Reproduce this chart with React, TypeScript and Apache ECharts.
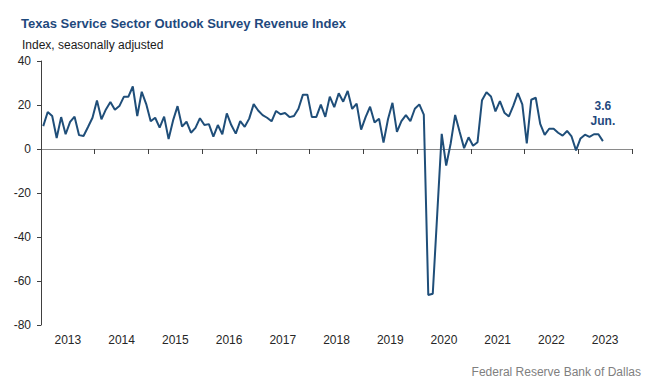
import React, { useEffect, useRef } from "react";
import * as echarts from "echarts";

const years = ["2013", "2014", "2015", "2016", "2017", "2018", "2019", "2020", "2021", "2022", "2023"];
const monthNames = ["Jan.", "Feb.", "Mar.", "Apr.", "May", "Jun.", "Jul.", "Aug.", "Sep.", "Oct.", "Nov.", "Dec."];

const revenue2013 = [10.4, 16.8, 15, 5, 14.5, 6.7, 12.3, 14.7, 6.3, 5.9, 10, 14.2];
const revenue2014 = [22.1, 13.5, 18, 21.4, 17.8, 19.5, 23.7, 23.7, 28.4, 15, 26, 20.4];
const revenue2015 = [12.6, 14.2, 9.7, 14.7, 4.5, 13, 19.5, 10.2, 12.4, 7.4, 9.6, 14];
const revenue2016 = [10.9, 11.3, 5.6, 10.9, 6.7, 16.2, 10.9, 7, 12.7, 10.1, 13.8, 20.4];
const revenue2017 = [17.5, 15.4, 14.2, 12.6, 17.3, 15.8, 16.4, 14.5, 15, 18.3, 24.7, 24.7];
const revenue2018 = [14.5, 14.6, 20.2, 14.6, 23.8, 19, 25.3, 21.5, 26.4, 18.2, 20.6, 8.8];
const revenue2019 = [14.5, 19.2, 12, 13.8, 2.9, 13.5, 21, 7.8, 12.7, 15.4, 12.7, 18.3];
const revenue2020 = [20.3, 15.6, -66.4, -65.8, -29.5, 6.9, -7.5, 2.5, 15.5, 7.8, 0.4, 5.3];
const revenue2021 = [1.5, 3.1, 22.2, 25.8, 23.9, 17.1, 21.8, 16.5, 14.8, 19.7, 25.4, 20.3];
const revenue2022 = [2.6, 22.4, 23.3, 11.4, 6.4, 9.2, 9.2, 7.4, 6.1, 8.2, 5.7, -0.6];
const revenue2023 = [4.8, 6.5, 5.5, 6.7, 6.7, 3.6];

const yTicks = { min: -80, max: 40, interval: 20 };

const titleText = "Texas Service Sector Outlook Survey Revenue Index";
const subtitleText = "Index, seasonally adjusted";
const sourceText = "Federal Reserve Bank of Dallas";

const revenueIndex = [
  ...revenue2013, ...revenue2014, ...revenue2015, ...revenue2016, ...revenue2017, ...revenue2018,
  ...revenue2019, ...revenue2020, ...revenue2021, ...revenue2022, ...revenue2023,
];
const months = years.flatMap((y) => monthNames.map((m) => `${m} ${y}`));

const FONT = 'Arial, "Liberation Sans", sans-serif';
const NAVY = "#1f497d";
const LINE = "#1f4e79";

export default function App() {
  const ref = useRef<HTMLDivElement>(null);
  useEffect(() => {
    if (!ref.current) return;
    const chart = echarts.init(ref.current, undefined, { renderer: "svg" });
    const last = revenueIndex.length - 1;
    chart.setOption({
      animation: false,
      backgroundColor: "#ffffff",
      title: [
        {
          text: titleText,
          left: 16,
          top: 10,
          textStyle: { fontFamily: FONT, fontSize: 13, fontWeight: "bold", color: NAVY, lineHeight: 16 },
        },
        {
          text: subtitleText,
          left: 17,
          top: 33,
          textStyle: { fontFamily: FONT, fontSize: 12, fontWeight: "normal", color: "#1a1a1a", lineHeight: 14 },
        },
        {
          text: sourceText,
          right: 9,
          top: 360,
          textStyle: { fontFamily: FONT, fontSize: 12, fontWeight: "normal", color: "#7f7f7f", lineHeight: 14 },
        },
      ],
      grid: { left: 41, right: 23, top: 61, bottom: 60, containLabel: false },
      xAxis: [
        {
          type: "category",
          data: months,
          boundaryGap: true,
          show: false,
          axisLine: { onZero: false },
        },
        {
          type: "category",
          data: years,
          boundaryGap: true,
          position: "bottom",
          axisLine: { show: true, onZero: true, onZeroAxisIndex: 0, lineStyle: { color: "#8a8a8a", width: 1 } },
          axisTick: { show: true, length: 5, interval: 0, lineStyle: { color: "#404040" } },
          axisLabel: { show: false },
          splitLine: { show: false },
        },
        {
          type: "category",
          data: years,
          boundaryGap: true,
          position: "bottom",
          axisLine: { show: false, onZero: false },
          axisTick: { show: false },
          axisLabel: { show: true, interval: 0, margin: 9, color: "#262626", fontSize: 12, fontFamily: FONT },
          splitLine: { show: false },
        },
      ],
      yAxis: {
        type: "value",
        min: yTicks.min,
        max: yTicks.max,
        interval: yTicks.interval,
        axisLine: { show: true, lineStyle: { color: "#404040", width: 1 } },
        axisTick: { show: true, length: 4, lineStyle: { color: "#404040" } },
        splitLine: { show: false },
        axisLabel: { margin: 10, color: "#262626", fontSize: 12, fontFamily: FONT },
      },
      series: [
        {
          type: "line",
          xAxisIndex: 0,
          yAxisIndex: 0,
          data: revenueIndex,
          showSymbol: false,
          lineStyle: { color: LINE, width: 2 },
          itemStyle: { color: LINE },
          z: 5,
          markPoint: {
            symbol: "circle",
            symbolSize: 0,
            itemStyle: { color: "transparent" },
            data: [{ coord: [last, revenueIndex[last]], value: revenueIndex[last] }],
            label: {
              show: true,
              position: "top",
              distance: 13,
              formatter: (p: any) => `${p.value}\n${monthNames[last % 12]}`,
              fontFamily: FONT,
              fontSize: 12,
              fontWeight: "bold",
              color: NAVY,
              lineHeight: 15,
              align: "center",
            },
          },
        },
      ],
    });
    return () => chart.dispose();
  }, []);
  return (
    <div
      ref={ref}
      style={{ position: "fixed", left: 0, top: 0, width: 655, height: 385, background: "#fff" }}
    />
  );
}
